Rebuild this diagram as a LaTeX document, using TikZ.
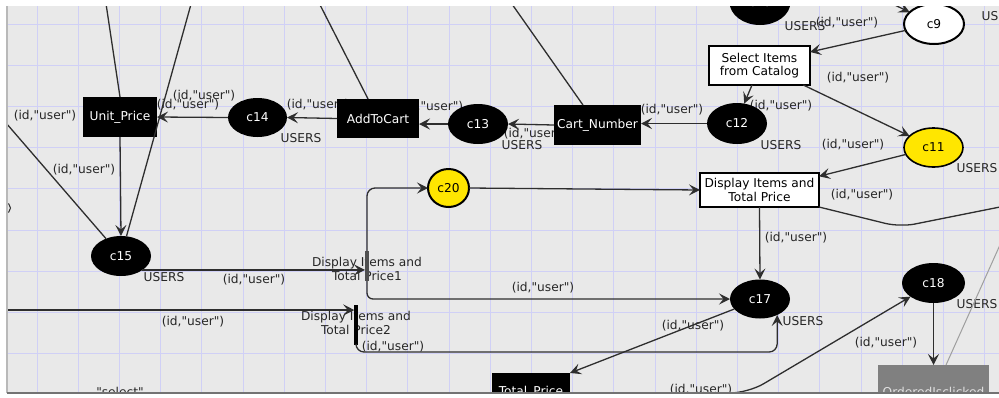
\documentclass[tikz,border=0pt]{standalone}
\usepackage{fontspec}
\setmainfont{DejaVu Sans}[Ligatures=TeXOff]
\usetikzlibrary{arrows.meta,shapes.geometric}

\definecolor{canvasbg}{HTML}{E9E9E9}
\definecolor{gridc}{HTML}{D0D0F6}
\definecolor{edgec}{HTML}{2E2E2E}
\definecolor{tokyel}{HTML}{FFE600}
\definecolor{labc}{HTML}{262626}
\definecolor{bargray}{HTML}{505050}
\definecolor{ordgray}{HTML}{808080}

\newcommand\idu{(id,"user")}

\begin{document}
\begin{tikzpicture}[x=1pt,y=-1pt,
  every node/.style={font=\fontsize{12.2}{13.5}\selectfont, inner sep=0pt, outer sep=0pt},
  blackplace/.style={ellipse, fill=black, text=white},
  yelplace/.style={ellipse, fill=tokyel, draw=black, line width=1.6pt, text=black},
  blacktrans/.style={rectangle, fill=black, text=white},
  boxtrans/.style={rectangle, fill=white, draw=black, line width=1.5pt, align=center, text=black},
  tbar/.style={rectangle, inner sep=0pt},
  lab/.style={text=labc, align=center},
  flow/.style={draw=edgec, line width=1.3pt, -{Stealth[length=11pt,width=11pt,inset=4.5pt]}},
  flowplain/.style={draw=edgec, line width=1.3pt},
]
% page and canvas
\useasboundingbox (0,0) rectangle (999,397);
\fill[white] (0,0) rectangle (999,397);
\fill[canvasbg] (7,6) rectangle (999,393);

\begin{scope}
\clip (7,6) rectangle (999,393);
% grid
\foreach \k in {0,...,23} \draw[gridc, line width=1pt] ({37+41.2*\k},6) -- ({37+41.2*\k},393);
\foreach \k in {0,...,8} \draw[gridc, line width=1pt] (7,{24+41.2*\k}) -- (999,{24+41.2*\k});

% inscriptions
\node[lab] (l1) at (45,116) {\idu};
\node[lab] (l2) at (204,96) {\idu};
\node[lab] (l3) at (188,105) {\idu};
\node[lab] (l4) at (84,170) {\idu};
\node[lab] (l5) at (318,105) {\idu};
\node[lab] (l6) at (432,107) {\idu};
\node[lab] (l7) at (535,134) {\idu};
\node[lab] (l8) at (672,110) {\idu};
\node[lab] (l9) at (781,106) {\idu};
\node[lab] (l10) at (858,78) {\idu};
\node[lab] (l11) at (847,23) {\idu};
\node[lab] (l12) at (853,145) {\idu};
\node[lab] (l13) at (862,195) {\idu};
\node[lab] (l14) at (796,238) {\idu};
\node[lab] (l15) at (543,288) {\idu};
\node[lab] (l16) at (254,280) {\idu};
\node[lab] (l17) at (193,322) {\idu};
\node[lab] (l18) at (393,347) {\idu};
\node[lab] (l19) at (693,326) {\idu};
\node[lab] (l20) at (886,343) {\idu};
\node[lab] (l21) at (701,390) {\idu};
\node[lab] (l22) at (120,392) {"select"};
% colour sets
\node[lab] (u1) at (301,138) {USERS};
\node[lab] (u2) at (522,145) {USERS};
\node[lab] (u3) at (781,145) {USERS};
\node[lab] (u4) at (805,26) {USERS};
\node[lab] (u5) at (1002,16) {USERS};
\node[lab] (u6) at (977,168) {USERS};
\node[lab] (u7) at (803,321) {USERS};
\node[lab] (u8) at (977,304) {USERS};
\node[lab] (u9) at (164,277) {USERS};
% transition names
\node[lab] (t1lab) at (367,269) {Display Items and\\Total Price1};
\node[lab] (t2lab) at (356,323) {Display Items and\\Total Price2};

% places
\node[blackplace, minimum width=61, minimum height=46] (c10) at (760,2) {c10};
\node[ellipse, fill=white, draw=black, line width=2pt, minimum width=60, minimum height=40] (c9) at (934,24) {c9};
\node[blackplace, minimum width=60, minimum height=41] (c12) at (737,123.5) {c12};
\node[yelplace, minimum width=59, minimum height=39] (c11) at (933.5,147.5) {c11};
\node[yelplace, line width=2pt, minimum width=41, minimum height=38] (c20) at (448.5,188) {c20};
\node[blackplace, minimum width=60, minimum height=40] (c13) at (478,124) {c13};
\node[blackplace, minimum width=59, minimum height=39] (c14) at (257.5,117.5) {c14};
\node[blackplace, minimum width=60, minimum height=40] (c15) at (121,256) {c15};
\node[blackplace, minimum width=60, minimum height=39] (c17) at (760,299) {c17};
\node[blackplace, minimum width=63, minimum height=40] (c18) at (933.5,283) {c18};
\node[circle, draw=edgec, line width=1pt, minimum size=11] (pl) at (5,208) {};

% transitions
\node[boxtrans, minimum width=101, minimum height=39] (sel) at (759.5,65.5) {Select Items\\from Catalog};
\node[boxtrans, minimum width=119, minimum height=34] (disp) at (759.5,190) {Display Items and\\Total Price};
\node[blacktrans, minimum width=87, minimum height=40] (cart) at (597.5,125) {Cart\_Number};
\node[blacktrans, minimum width=82, minimum height=39] (add) at (378,118.5) {AddToCart};
\node[blacktrans, minimum width=74, minimum height=40] (unit) at (120,117) {Unit\_Price};
\node[blacktrans, minimum width=78, minimum height=39] (total) at (531,392.5) {Total\_Price};
\node[rectangle, fill=ordgray, text=white!88!black, minimum width=111, minimum height=54] (ord) at (933.5,392) {OrderedIsclicked};
\node[tbar, fill=bargray, minimum width=4, minimum height=30] (t1) at (367,266) {};
\node[tbar, fill=black, minimum width=3.5, minimum height=40] (t2) at (356,325) {};

% free ends of arcs leaving the canvas
\coordinate (tA) at (105,-3);
\coordinate (tB) at (193,-3);
\coordinate (lA) at (0,116);
\coordinate (tC) at (316,-3);
\coordinate (tD) at (507,-3);
\coordinate (tE) at (868,-8);
\coordinate (inL) at (0,310);
\coordinate (inB) at (640,393);
\coordinate (bendB) at (748,393);
\coordinate (rBend) at (900,227);
\coordinate (rOut) at (1010,205);
\coordinate (gOut) at (1004,236);

% arcs
\draw[flow] (tE) -- (c9);
\draw[flow] (c9) -- (sel.15);
\draw[flow] (sel.-111) -- (c12.70);
\draw[flow] (sel.-24) -- (c11);
\draw[flow] (c11) -- (disp.13);
\draw[flow] (c12.west) -- (c12.west -| cart.east);
\draw[flow] (cart.west) -- (c13.east);
\draw[flow] (c13.west) -- (c13.west -| add.east);
\draw[flow] (add.west) -- (c14.east);
\draw[flow] (c14.west) -- (unit.east);
\draw[flow] (unit.south) -- (c15.north);
\draw[flow] (c20.east) -- (disp.west);
\draw[flow] (disp.south) -- (c17.north);
\draw[flowplain, rounded corners=15] (disp.south east) -- (rBend) -- (rOut);
\draw[flow] (c15.-33) -- (c15.-33 -| t1.west);
\draw[flow, rounded corners=8] (t1.north) |- (c20.west);
\draw[flow, rounded corners=6] (t1.south) |- (c17.west);
\draw[flow] (inL) -- (inL -| t2.west);
\draw[flow, rounded corners=8] (t2.south) -- ++(0,7) -| (c17.-43);
\draw[flow] (c17) -- (total.north east);
\draw[flow, rounded corners=18] (inB) -- (bendB) -- (c18);
\draw[flow] (c18.south) -- (ord.north);
\draw[draw=gray!75, line width=1pt] ([xshift=12.5pt]ord.north) -- (gOut);
\draw[flowplain] (tA) -- (unit.north);
\draw[flowplain] (tB) -- (c15);
\draw[flowplain] (lA) -- (c15);
\draw[flowplain] (tC) -- (add.117);
\draw[flowplain] (tD) -- (cart.126);
\end{scope}

% canvas frame
\draw[gray!55, line width=1.5pt] (7,6) -- (7,393);
\draw[gray!90!black, line width=1.5pt] (7,393) -- (999,393);
\end{tikzpicture}
\end{document}
